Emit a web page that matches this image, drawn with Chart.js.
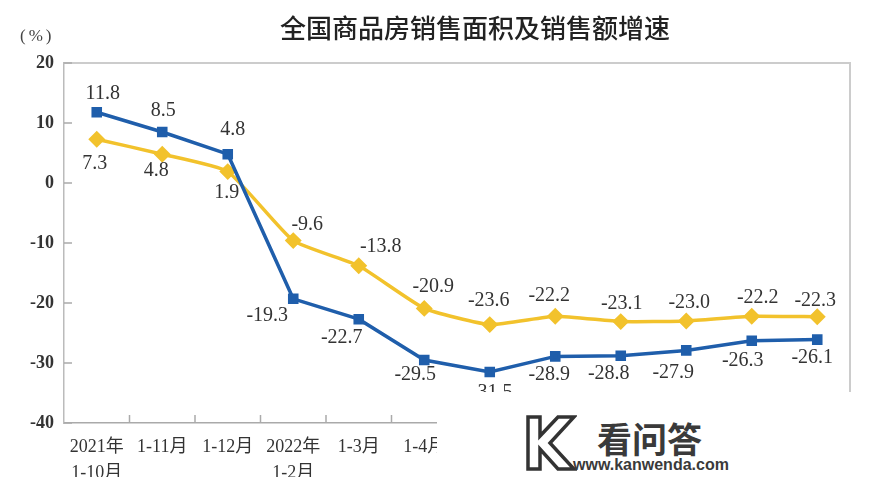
<!DOCTYPE html>
<html><head><meta charset="utf-8">
<script src="https://cdn.jsdelivr.net/npm/chart.js@4/dist/chart.umd.min.js"></script>
<style>
html,body{margin:0;padding:0;background:#fff;}
#wrap{position:relative;width:872px;height:477px;overflow:hidden;background:#fff;}
#cv{position:absolute;left:0;top:0;}
#title{position:absolute;left:225px;top:12px;width:500px;text-align:center;font:500 26px/30px "Noto Sans CJK SC";color:#222;}
#unit{position:absolute;left:20px;top:26px;font:17px/20px "Liberation Serif";color:#444;letter-spacing:3px;}
#wm{position:absolute;left:437px;top:392px;width:435px;height:85px;background:#fff;}
#wmcn{position:absolute;left:160px;top:28px;font:bold 35px/35px "Noto Sans CJK SC";color:#3a3a3a;}
#wmurl{position:absolute;left:136px;top:65px;font:bold 16px/16px "Liberation Sans";color:#3a3a3a;}
#wmk{position:absolute;left:88px;top:22px;}
</style></head>
<body>
<div id="wrap">
<canvas id="cv" width="872" height="477"></canvas>
<div id="title">全国商品房销售面积及销售额增速</div>
<div id="unit">(%)</div>
<div id="wm">
  <svg id="wmk" width="52" height="58" viewBox="0 0 52 58">
    <path d="M3,3 L15,3 L15,22 L33,3 L49,3 L25,29 L49,55 L33,55 L15,35 L15,55 L3,55 Z" fill="none" stroke="#333" stroke-width="3.5" stroke-linejoin="miter"/>
  </svg>
  <div id="wmcn">看问答</div>
  <div id="wmurl">www.kanwenda.com</div>
</div>
</div>
<script>
const categories = [['2021年','1-10月'],'1-11月','1-12月',['2022年','1-2月'],'1-3月','1-4月','1-5月','1-6月','1-7月','1-8月','1-9月','1-10月'];
const salesValueGrowth = [11.8, 8.5, 4.8, -19.3, -22.7, -29.5, -31.5, -28.9, -28.8, -27.9, -26.3, -26.1];
const salesAreaGrowth = [7.3, 4.8, 1.9, -9.6, -13.8, -20.9, -23.6, -22.2, -23.1, -23.0, -22.2, -22.3];
const yTicks = [20, 10, 0, -10, -20, -30, -40];

// label nudges (pixels) for each dataset
const labelNudges = [
  { dx: [6,1,5,-26,-17,-9,2,-6,-12,-13,-9,-5], dy: [-18,-21,-24,17,19,15,21,18,18,22,20,18] },
  { dx: [-2,-6,-1,14,22,9,-1,-6,1,3,6,-2], dy: [25,17,21,-16,-19,-22,-24,-20,-18,-18,-18,-16] }
];

const framePlugin = {
  id: 'frame',
  beforeDatasetsDraw(chart) {
    const {ctx, chartArea: {left, right, top, bottom}, scales: {x, y}} = chart;
    ctx.save();
    ctx.strokeStyle = '#cccccc'; ctx.lineWidth = 2;
    ctx.beginPath(); ctx.moveTo(left, top); ctx.lineTo(right, top); ctx.lineTo(right, bottom); ctx.stroke();
    ctx.strokeStyle = '#aaaaaa'; ctx.lineWidth = 1.5;
    ctx.beginPath();
    yTicks.forEach(v => { const py = y.getPixelForValue(v); ctx.moveTo(left, py); ctx.lineTo(left + 8, py); });
    for (let i = 1; i < categories.length; i++) {
      const px = (x.getPixelForValue(i - 1) + x.getPixelForValue(i)) / 2;
      ctx.moveTo(px, bottom); ctx.lineTo(px, bottom - 8);
    }
    ctx.stroke();
    ctx.restore();
  }
};

const labelPlugin = {
  id: 'vlabels',
  afterDatasetsDraw(chart) {
    const ctx = chart.ctx;
    ctx.save();
    ctx.font = '20px "Liberation Serif"';
    ctx.fillStyle = '#333';
    ctx.textAlign = 'center';
    ctx.textBaseline = 'middle';
    chart.data.datasets.forEach((ds, di) => {
      const meta = chart.getDatasetMeta(di);
      meta.data.forEach((pt, i) => {
        const v = ds.data[i];
        ctx.fillText(v.toFixed(1), pt.x + labelNudges[di].dx[i], pt.y + labelNudges[di].dy[i]);
      });
    });
    ctx.restore();
  }
};

new Chart(document.getElementById('cv'), {
  type: 'line',
  data: {
    labels: categories,
    datasets: [
      { label: '销售额', data: salesValueGrowth, borderColor: '#1f5eab', backgroundColor: '#1f5eab',
        borderWidth: 3.5, pointStyle: 'rect', pointRadius: 5, tension: 0 },
      { label: '销售面积', data: salesAreaGrowth, borderColor: '#f2c22c', backgroundColor: '#f2c22c',
        borderWidth: 3.5, pointStyle: 'rectRot', pointRadius: 6, tension: 0.15 }
    ]
  },
  options: {
    responsive: false,
    animation: false,
    layout: { padding: { top: 63, right: 22, bottom: 0, left: 0 } },
    plugins: { legend: { display: false }, tooltip: { enabled: false }, title: { display: false } },
    scales: {
      x: {
        type: 'category', offset: true,
        grid: { display: true, drawOnChartArea: false, drawTicks: false },
        border: { color: '#aaaaaa', width: 1.5 },
        ticks: { font: { family: '"Liberation Serif", "Noto Sans CJK SC"', size: 18, lineHeight: 1.4 }, color: '#333', padding: 12, maxRotation: 0, autoSkip: false },
        afterFit(s) { s.height = 54; }
      },
      y: {
        min: -40, max: 20,
        grid: { display: true, drawOnChartArea: false, drawTicks: false },
        border: { color: '#bbbbbb', width: 1.5 },
        ticks: { stepSize: 10, font: { family: '"Liberation Serif"', size: 18, weight: 'bold' }, color: '#333', padding: 10 },
        afterFit(s) { s.width = 64; }
      }
    }
  },
  plugins: [framePlugin, labelPlugin]
});
</script>
</body></html>
